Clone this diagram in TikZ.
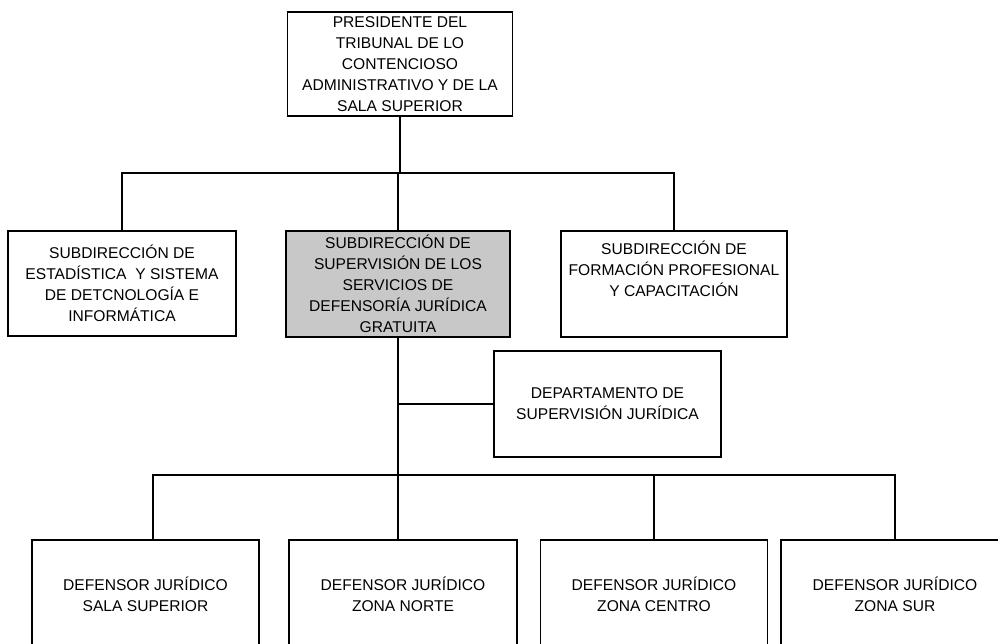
\documentclass[tikz,border=0pt]{standalone}
\usepackage{fontspec}
\setmainfont{Liberation Sans}
\definecolor{boxgray}{RGB}{200,200,200}
\begin{document}
\begin{tikzpicture}[x=1pt,y=-1pt,
  box/.style={draw, line width=1.8pt, rectangle, inner sep=0pt, align=center,
              font=\fontsize{15.6}{21}\selectfont},
  lbl/.style={inner sep=0pt, align=center, font=\fontsize{15.6}{21}\selectfont},
  conn/.style={line width=1.8pt}]
\useasboundingbox (0,0) rectangle (998,643);
\clip (0,0) rectangle (998,643);
% top
\node[box, minimum width=225pt, minimum height=104pt] (top) at (400,64)
  {PRESIDENTE DEL\\TRIBUNAL DE LO\\CONTENCIOSO\\ADMINISTRATIVO Y DE LA\\SALA SUPERIOR};
% second level
\node[box, minimum width=228pt, minimum height=105pt] (left) at (122,283.5)
  {SUBDIRECCIÓN DE\\ESTADÍSTICA \ Y SISTEMA\\DE DETCNOLOGÍA E\\INFORMÁTICA};
\node[box, fill=boxgray, minimum width=224pt, minimum height=106pt] (mid) at (398,284)
  {SUBDIRECCIÓN DE\\SUPERVISIÓN DE LOS\\SERVICIOS DE\\DEFENSORÍA JURÍDICA\\GRATUITA};
\node[box, minimum width=226pt, minimum height=106pt] (right) at (674,284) {};
\node[lbl] (rightt) at (674,269) {SUBDIRECCIÓN DE\\FORMACIÓN PROFESIONAL\\Y CAPACITACIÓN};
% department
\node[box, minimum width=227pt, minimum height=106pt] (dept) at (607.5,404)
  {DEPARTAMENTO DE\\SUPERVISIÓN JURÍDICA};
% bottom
\node[box, minimum width=227pt, minimum height=125pt] (d1) at (145.5,602.5) {};
\node[box, minimum width=228pt, minimum height=125pt] (d2) at (403,602.5) {};
\node[box, minimum width=227pt, minimum height=125pt] (d3) at (654,602.5) {};
\node[box, minimum width=228pt, minimum height=125pt] (d4) at (895,602.5) {};
\node[lbl] (d1t) at (145.5,594.5) {DEFENSOR JURÍDICO\\SALA SUPERIOR};
\node[lbl] (d2t) at (403,594.5) {DEFENSOR JURÍDICO\\ZONA NORTE};
\node[lbl] (d3t) at (654,594.5) {DEFENSOR JURÍDICO\\ZONA CENTRO};
\node[lbl] (d4t) at (895,594.5) {DEFENSOR JURÍDICO\\ZONA SUR};
% connectors
\coordinate (b1) at (398,173);
\coordinate (b2) at (398,475);
\draw[conn] (top.south) -- (top.south |- b1);
\draw[conn] (left.north) |- (b1) -| (right.north);
\draw[conn] (b1) -- (mid.north);
\draw[conn] (mid.south) -- (b2);
\draw[conn] (mid.south |- dept.west) -- (dept.west);
\draw[conn] ([xshift=7.5pt]d1.north) |- (b2) -| (d4.north);
\draw[conn] (b2) -- ([xshift=-5pt]d2.north);
\draw[conn] (d3.north) -- (d3.north |- b2);
\end{tikzpicture}
\end{document}
